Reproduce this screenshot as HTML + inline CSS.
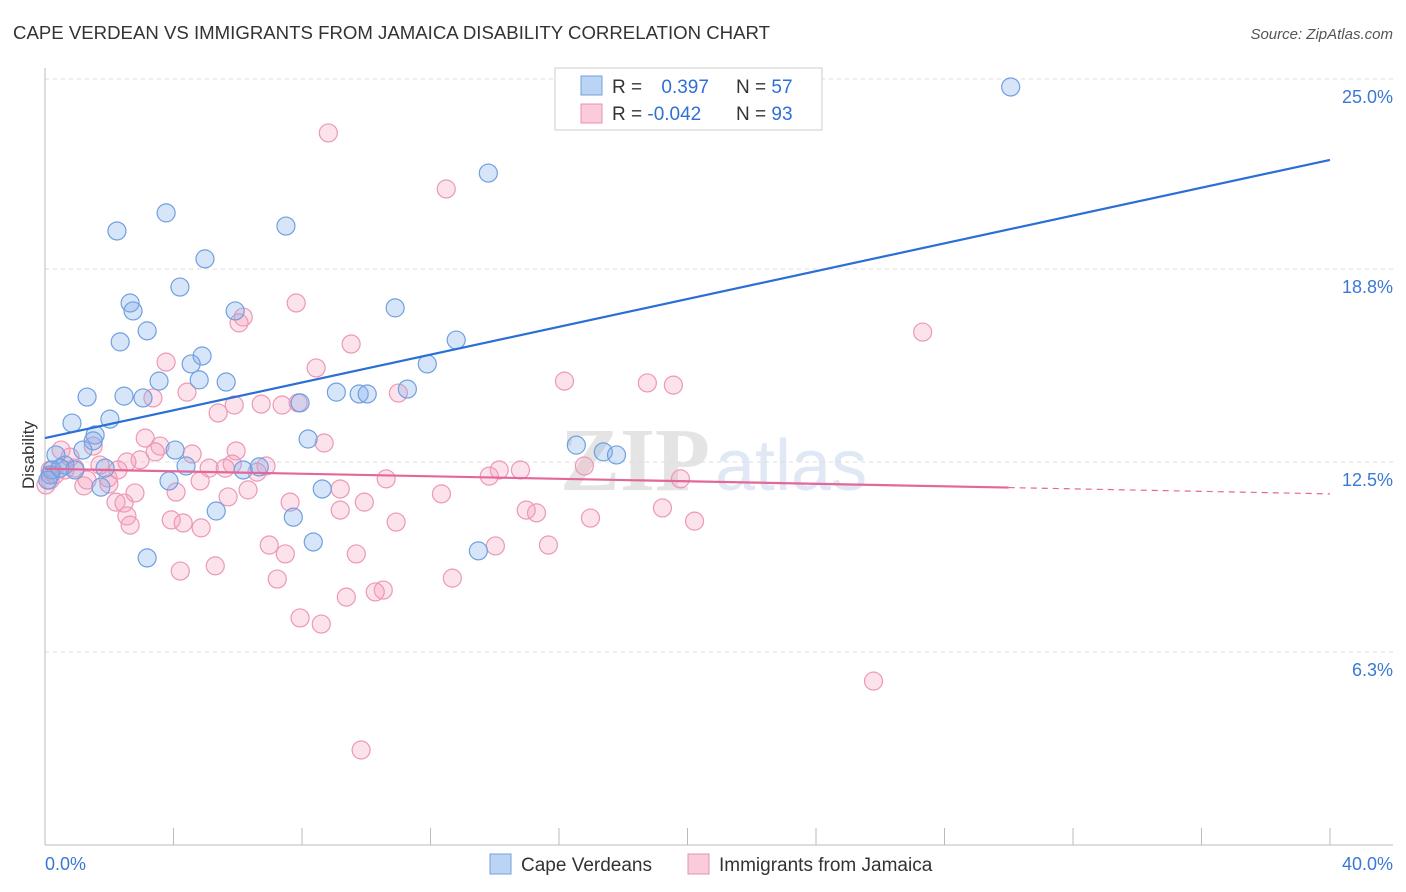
<!DOCTYPE html>
<html><head><meta charset="utf-8"><style>
body{margin:0;background:#fff;font-family:"Liberation Sans",sans-serif;}
#wrap{position:relative;width:1406px;height:892px;overflow:hidden;}
</style></head><body>
<div id="wrap">
<svg id="svg" width="1406" height="892" xmlns="http://www.w3.org/2000/svg">
<text x="13" y="39" font-size="18" fill="#333" textLength="757" lengthAdjust="spacingAndGlyphs">CAPE VERDEAN VS IMMIGRANTS FROM JAMAICA DISABILITY CORRELATION CHART</text>
<text x="1393" y="39" font-size="15" fill="#555" text-anchor="end" font-style="italic">Source: ZipAtlas.com</text>
<text x="560" y="490" font-size="90" fill="#e4e4e4" font-family="Liberation Serif" font-weight="bold">ZIP</text>
<text x="715" y="490" font-size="72" fill="#dfe8f4">atlas</text>
<text transform="translate(34,455) rotate(-90)" font-size="17" fill="#333" text-anchor="middle">Disability</text>
<g id="grid"></g><g id="pts"></g><g id="lines"></g>
<g>
<rect x="555" y="68" width="267" height="62" fill="#fff" stroke="#ccc"/>
<rect x="581" y="76" width="21" height="19" fill="#bcd4f3" stroke="#6fa0e0"/>
<rect x="581" y="104" width="21" height="19" fill="#f9cbdb" stroke="#e890b0"/>
<text x="612" y="93" font-size="19" fill="#333">R = <tspan fill="#2f6fd6" dx="14">0.397</tspan><tspan x="736" fill="#333">N = </tspan><tspan fill="#2f6fd6">57</tspan></text>
<text x="612" y="120" font-size="19" fill="#333">R = <tspan fill="#2f6fd6">-0.042</tspan><tspan x="736" fill="#333">N = </tspan><tspan fill="#2f6fd6">93</tspan></text>
</g>
<g>
<rect x="490" y="854" width="21" height="20" fill="#bcd4f3" stroke="#6fa0e0"/>
<text x="521" y="871" font-size="19" fill="#333">Cape Verdeans</text>
<rect x="688" y="854" width="21" height="20" fill="#f9cbdb" stroke="#e890b0"/>
<text x="719" y="871" font-size="19" fill="#333">Immigrants from Jamaica</text>
</g>
</svg>
</div>
<script>
const blueX=[30.06,13.8,3.77,2.24,7.5,4.98,4.2,2.65,2.74,5.92,10.9,3.18,2.34,12.8,4.89,4.55,11.9,3.55,4.8,5.64,1.31,2.46,3.05,9.07,9.78,10.03,11.28,7.94,2.02,0.84,1.56,1.5,8.19,16.54,17.38,17.79,4.05,1.18,0.34,0.62,0.22,0.16,0.93,1.87,4.39,6.17,6.67,3.86,1.74,8.63,5.33,7.73,8.35,13.49,3.18,0.09,0.47];
const blueY=[24.74,21.93,20.63,20.04,20.2,19.13,18.21,17.69,17.43,17.43,17.53,16.78,16.42,16.48,15.96,15.7,15.7,15.14,15.18,15.11,14.62,14.65,14.59,14.78,14.72,14.72,14.88,14.43,13.9,13.77,13.38,13.19,13.25,13.05,12.83,12.73,12.89,12.89,12.73,12.4,12.24,12.08,12.24,12.3,12.37,12.24,12.34,11.88,11.68,11.62,10.9,10.7,9.89,9.6,9.37,11.91,12.3];
const pinkX=[8.82,12.49,7.82,6.17,6.04,9.53,27.32,3.77,8.44,16.17,18.75,19.56,4.42,3.36,6.73,7.38,7.88,11.0,5.39,3.12,3.58,8.69,5.95,3.43,4.58,0.5,1.5,0.78,2.96,2.55,1.71,2.27,5.83,5.11,5.61,6.88,6.6,14.14,14.8,13.83,16.79,10.62,19.78,4.83,1.21,1.99,1.31,4.08,2.8,5.7,6.32,9.19,12.34,9.94,2.21,2.46,2.55,2.65,3.93,4.3,4.86,14.98,15.3,16.98,19.22,20.22,10.93,6.98,7.48,9.69,14.02,15.67,4.21,5.3,7.23,12.68,10.53,10.28,9.38,7.94,8.6,25.79,9.84,0.16,0.03,0.31,0.62,0.93,1.96,7.63,9.19,5.89,0.16];
const pinkY=[23.24,21.41,17.69,17.23,17.04,16.35,16.74,15.76,15.57,15.14,15.08,15.01,14.78,14.59,14.39,14.36,14.43,14.75,14.1,13.28,13.02,13.12,12.86,12.83,12.76,12.89,13.02,12.66,12.57,12.5,12.4,12.24,12.43,12.3,12.3,12.37,12.17,12.24,12.24,12.04,12.37,11.95,11.95,11.88,11.72,11.78,11.91,11.52,11.49,11.36,11.59,11.62,11.46,11.19,11.19,11.16,10.74,10.44,10.61,10.51,10.35,10.93,10.84,10.67,11.0,10.57,10.54,9.79,9.5,9.5,9.76,9.79,8.94,9.11,8.68,8.71,8.32,8.26,8.09,7.41,7.21,5.35,3.1,11.91,11.75,12.08,12.24,12.3,11.98,11.19,10.93,14.36,12.24];
const yTicks=[25.0,18.8,12.5,6.3];
const yTickLabels=["25.0%","18.8%","12.5%","6.3%"];
const blueTrend=[13.28,22.36];
const pinkTrend=[12.28,11.46];
const pinkSolidEnd=30;

const NS="http://www.w3.org/2000/svg";
const sx=v=>45+v/40*1285;
const sy=v=>462-(v-12.5)*30.64;
function mk(tag,attrs,parent){const e=document.createElementNS(NS,tag);for(const k in attrs)e.setAttribute(k,attrs[k]);parent.appendChild(e);return e;}
const grid=document.getElementById('grid'),pts=document.getElementById('pts'),lines=document.getElementById('lines');
yTicks.forEach((t,i)=>{
  const l=mk('line',{x1:45,x2:1393,y1:sy(t),y2:sy(t),stroke:'#ddd','stroke-dasharray':'4,4'},grid);
  
  
  const tx=mk('text',{x:1393,y:sy(t)+24,'font-size':18,fill:'#3a78d4','text-anchor':'end'},grid);
  tx.textContent=yTickLabels[i];
  
  
});
const ax=mk('line',{x1:45,x2:45,y1:68,y2:845,stroke:'#bbb'},grid);


const bx=mk('line',{x1:45,x2:1393,y1:845,y2:845,stroke:'#bbb'},grid);


for(let i=0;i<=10;i++){const tk=mk('line',{x1:sx(i*4),x2:sx(i*4),y1:828,y2:845,stroke:'#bbb'},grid);
  
  }
const xl=mk('text',{x:45,y:870,'font-size':18,fill:'#3a78d4'},grid);xl.textContent='0.0%';


const xr=mk('text',{x:1393,y:870,'font-size':18,fill:'#3a78d4','text-anchor':'end'},grid);xr.textContent='40.0%';


pinkX.forEach((x,i)=>{const c=mk('circle',{cx:sx(x),cy:sy(pinkY[i]),r:9,fill:'rgba(244,160,190,0.3)',stroke:'#ec98b6','stroke-width':1.2},pts);
  
  });
blueX.forEach((x,i)=>{const c=mk('circle',{cx:sx(x),cy:sy(blueY[i]),r:9,fill:'rgba(130,175,235,0.32)',stroke:'#6fa0e0','stroke-width':1.2},pts);
  
  });
const bl=mk('line',{x1:sx(0),y1:sy(blueTrend[0]),x2:sx(40),y2:sy(blueTrend[1]),stroke:'#2a6fd6','stroke-width':2.2},lines);


const pm=pinkTrend[0]+(pinkTrend[1]-pinkTrend[0])*pinkSolidEnd/40;
const pl=mk('line',{x1:sx(0),y1:sy(pinkTrend[0]),x2:sx(pinkSolidEnd),y2:sy(pm),stroke:'#e4679a','stroke-width':2.2},lines);


const pd=mk('line',{x1:sx(pinkSolidEnd),y1:sy(pm),x2:sx(40),y2:sy(pinkTrend[1]),stroke:'#e4679a','stroke-width':1.2,'stroke-dasharray':'6,5'},lines);


</script>
</body></html>
